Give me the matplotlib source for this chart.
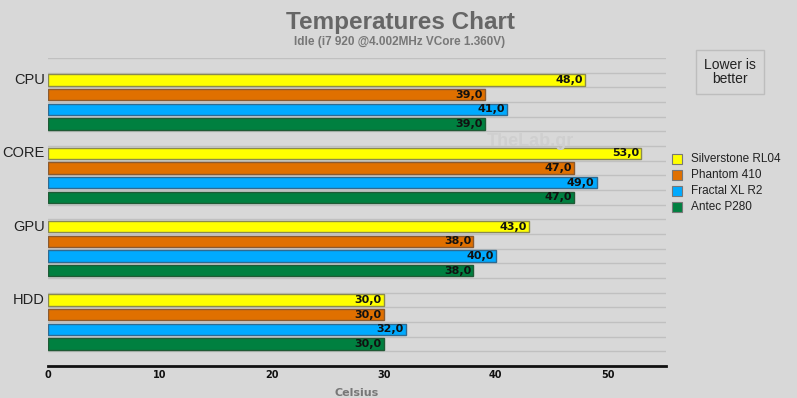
import numpy as np
import matplotlib.pyplot as plt

categories = ['CPU', 'CORE', 'GPU', 'HDD']
cases = ['Silverstone RL04', 'Phantom 410', 'Fractal XL R2', 'Antec P280']
colors = ['#ffff00', '#e07000', '#00aaff', '#008040']
edges = ['#8a8a50', '#8a5a30', '#306a90', '#205a35']
temps = {
    'Silverstone RL04': [48.0, 53.0, 43.0, 30.0],
    'Phantom 410': [39.0, 47.0, 38.0, 30.0],
    'Fractal XL R2': [41.0, 49.0, 40.0, 32.0],
    'Antec P280': [39.0, 47.0, 38.0, 30.0],
}

bg = '#d8d8d8'
fig = plt.figure(figsize=(7.97, 3.98), dpi=100, facecolor=bg)
ax = fig.add_axes([48 / 797, 1 - 366 / 398, (666 - 48) / 797, (366 - 58) / 398])
ax.set_facecolor(bg)

# 21 slots: gap, 4 bars, gap, 4 bars ... gap
nslots = 21
for gi, cat in enumerate(categories):
    for ci, case in enumerate(cases):
        slot = gi * 5 + 1 + ci
        y = slot + 0.5
        v = temps[case][gi]
        ax.barh(y, v, height=0.78, color=colors[ci], edgecolor=edges[ci], linewidth=1)
        ax.text(v - 0.2, y, f'{v:.1f}'.replace('.', ','), ha='right', va='center',
                fontsize=8, fontweight='bold', color='#111111')
    ax.text(-0.3, gi * 5 + 1.5, cat, ha='right', va='center', fontsize=10.5,
            color='#222222', family='Liberation Sans')

for k in range(nslots):
    ax.axhline(k, color='#c0c0c0', linewidth=1, zorder=0)

ax.set_ylim(nslots, 0)
ax.set_xlim(0, 55.2)
ax.set_yticks([])
ax.set_xticks([0, 10, 20, 30, 40, 50])
ax.tick_params(axis='x', length=0, pad=3, labelsize=7, colors='#111111')
for lab in ax.get_xticklabels():
    lab.set_fontweight('bold')
for s in ['left', 'right', 'top']:
    ax.spines[s].set_visible(False)
ax.spines['bottom'].set_linewidth(2)
ax.spines['bottom'].set_color('#111111')
ax.set_xlabel('Celsius', fontsize=8, fontweight='bold', color='#777777', labelpad=6)

fig.text(400 / 797, 1 - 22 / 398, 'Temperatures Chart', ha='center', va='center',
         fontsize=17.5, fontweight='bold', color='#666666', family='Liberation Sans')
fig.text(400 / 797, 1 - 42 / 398, 'Idle (i7 920 @4.002MHz VCore 1.360V)', ha='center',
         va='center', fontsize=8.5, fontweight='bold', color='#777777', family='Liberation Sans')

# watermark
fig.text(530 / 797, 1 - 142 / 398, 'TheLab.gr', ha='center', va='center', fontsize=13,
         fontweight='bold', color='#cfcfcf', zorder=0.5, family='Liberation Sans')

# note box
fig.text(730 / 797, 1 - 72 / 398, 'Lower is\nbetter', ha='center', va='center', fontsize=10,
         color='#222222', linespacing=1.0, family='Liberation Sans',
         bbox=dict(boxstyle='square,pad=0.6', facecolor=bg, edgecolor='#bdbdbd', linewidth=1))

# legend
for ci, case in enumerate(cases):
    yy = 1 - (159 + ci * 16) / 398
    fig.patches.append(plt.Rectangle((672 / 797, yy - 5 / 398), 10 / 797, 10 / 398,
                                     transform=fig.transFigure, facecolor=colors[ci],
                                     edgecolor='#777777', linewidth=0.8))
    fig.text(691 / 797, yy, case, ha='left', va='center', fontsize=8.5, color='#222222',
             family='Liberation Sans')

fig.savefig('out.png', dpi=100, facecolor=bg)
